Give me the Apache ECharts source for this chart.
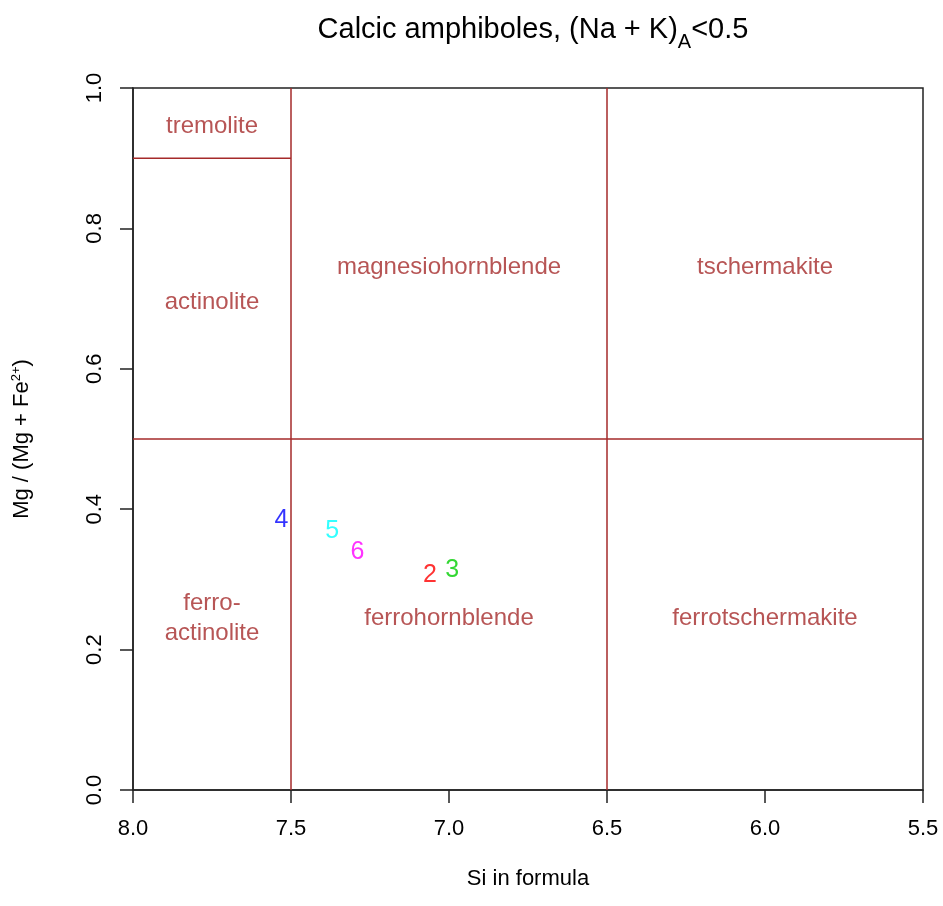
<!DOCTYPE html>
<html>
<head>
<meta charset="utf-8">
<script src="https://cdn.jsdelivr.net/npm/echarts@6/dist/echarts.min.js"></script>
<style>html,body{margin:0;padding:0;background:#fff}#c{width:943px;height:906px}</style>
</head>
<body>
<div id="c"></div>
<script>
// Samples
const sampleIds = ['2', '3', '4', '5', '6'];
const siValues = [7.06, 6.99, 7.53, 7.37, 7.29];
const mgValues = [0.306, 0.313, 0.385, 0.369, 0.339];
const sampleColors = ['#FF0000', '#00CD00', '#0000FF', '#00FFFF', '#FF00FF'];

// Field names and label positions
const fieldNames = ['tremolite', 'actinolite', 'magnesiohornblende', 'tschermakite', 'ferro-\nactinolite', 'ferrohornblende', 'ferrotschermakite'];
const fieldSi = [7.75, 7.75, 7.0, 6.0, 7.75, 7.0, 6.0];
const fieldMg = [0.945, 0.695, 0.745, 0.745, 0.245, 0.245, 0.245];

// Boundary segments [si1, mg1, si2, mg2]
const boundaries = [
  [7.5, 0, 7.5, 1],
  [6.5, 0, 6.5, 1],
  [8.0, 0.5, 5.5, 0.5],
  [8.0, 0.9, 7.5, 0.9]
];

// Axis ticks
const xTicks = [8.0, 7.5, 7.0, 6.5, 6.0, 5.5];
const yTicks = [0.0, 0.2, 0.4, 0.6, 0.8, 1.0];

const fieldColor = '#A52A2A';
const font = 'Liberation Sans, Arial, sans-serif';

const series = [];
boundaries.forEach(b => {
  series.push({
    type: 'line', data: [[b[0], b[1]], [b[2], b[3]]], symbol: 'none',
    lineStyle: { color: fieldColor, width: 1.5 }, silent: true, z: 2, animation: false
  });
});
series.push({
  type: 'scatter', symbolSize: 0, silent: true, animation: false, z: 3,
  data: fieldNames.map((n, i) => ({ value: [fieldSi[i], fieldMg[i]], name: n })),
  label: { show: true, position: 'inside', formatter: p => p.name, color: fieldColor,
           fontSize: 24, fontFamily: font, lineHeight: 30, align: 'center', verticalAlign: 'middle' }
});
series.push({
  type: 'scatter', symbolSize: 0, silent: true, animation: false, z: 4,
  data: sampleIds.map((n, i) => ({ value: [siValues[i], mgValues[i]], name: n,
        label: { color: sampleColors[i] } })),
  label: { show: true, position: 'inside', formatter: p => p.name,
           fontSize: 25, fontFamily: font, align: 'center', verticalAlign: 'middle' }
});

const chart = echarts.init(document.getElementById('c'));
chart.setOption({
  animation: false,
  backgroundColor: '#fff',
  title: {
    text: '{t|Calcic amphiboles, (Na + K)}{s|A}{t|<0.5}',
    left: 528, top: 3, textAlign: 'center',
    textStyle: {
      fontWeight: 'normal',
      rich: {
        t: { fontSize: 29, fontFamily: font, color: '#000', fontWeight: 'normal', verticalAlign: 'bottom', lineHeight: 36 },
        s: { fontSize: 20, fontFamily: font, color: '#000', fontWeight: 'normal', verticalAlign: 'bottom', lineHeight: 24, padding: [0, 0, -8, 0] }
      }
    }
  },
  grid: { left: 133, right: 20, top: 88, bottom: 116, show: true, borderColor: '#222', borderWidth: 1.5 },
  xAxis: {
    type: 'value', min: 5.5, max: 8.0, interval: 0.5, inverse: true,
    name: 'Si in formula', nameLocation: 'middle', nameGap: 78,
    nameTextStyle: { fontSize: 22, fontFamily: font, color: '#000' },
    axisLine: { show: true, lineStyle: { color: '#222', width: 1.5 } },
    axisTick: { show: true, length: 13, lineStyle: { color: '#222', width: 1.5 } },
    axisLabel: { fontSize: 22, fontFamily: font, color: '#000', margin: 28, formatter: v => v.toFixed(1) },
    splitLine: { show: false }
  },
  yAxis: {
    type: 'value', min: 0, max: 1, interval: 0.2,
    name: '{n|Mg / (Mg + Fe}{sup|2+}{n|)}', nameLocation: 'middle', nameGap: 100, nameRotate: 90,
    nameTextStyle: { rich: {
      n: { fontSize: 22, fontFamily: font, color: '#000' },
      sup: { fontSize: 13, fontFamily: font, color: '#000', verticalAlign: 'top', padding: [0, 0, 10, 0] }
    } },
    axisLine: { show: true, lineStyle: { color: '#222', width: 1.5 } },
    axisTick: { show: true, length: 13, lineStyle: { color: '#222', width: 1.5 } },
    axisLabel: { fontSize: 22, fontFamily: font, color: '#000', rotate: 90, margin: 38,
                 align: 'center', verticalAlign: 'middle', formatter: v => v.toFixed(1) },
    splitLine: { show: false }
  },
  series: series
});
</script>
</body>
</html>
